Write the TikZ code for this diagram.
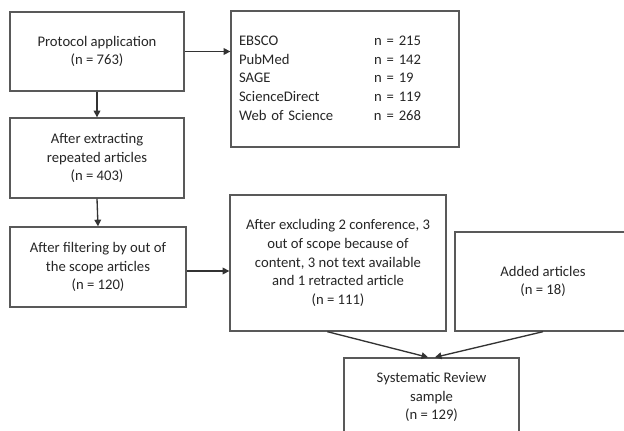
\documentclass[tikz,border=0pt]{standalone}
\usepackage{fontspec}
\setmainfont{Carlito}
\usetikzlibrary{arrows.meta}
\begin{document}
\begin{tikzpicture}[x=0.75pt,y=-0.75pt,
  box/.style={draw=black!65,line width=1pt,inner sep=0pt,align=center,
    text=black!85,font=\fontsize{11}{14}\selectfont},
  conn/.style={draw=black!80,line width=1pt,-{Triangle[length=5pt,width=5pt]}}]
\useasboundingbox (0,0) rectangle (624,430);
\clip (0,0) rectangle (624,430);
\fill[white] (0,0) rectangle (624,430);
\node[box,minimum width=130.5pt,minimum height=59.25pt] (b1) at (97,51.5)
  {Protocol application\\(n = 763)};
\node[box,minimum width=130.5pt,minimum height=60pt] (b2) at (97,158)
  {After extracting\\repeated articles\\(n = 403)};
\node[box,minimum width=132pt,minimum height=60pt] (b3) at (98,267)
  {After filtering by out of\\the scope articles\\(n = 120)};
\node[box,minimum width=171pt,minimum height=102pt,text width=159pt,align=left,inner xsep=6pt] (b5) at (345,79)
  {\begin{tabular}{@{}p{101.25pt}@{}l@{}}
   EBSCO & n = 215\\
   PubMed & n = 142\\
   SAGE & n = 19\\
   ScienceDirect & n = 119\\
   Web of Science & n = 268
   \end{tabular}};
\node[box,minimum width=162pt,minimum height=102pt] (b4) at (338,263)
  {After excluding 2 conference, 3\\out of scope because of\\content, 3 not text available\\and 1 retracted article\\(n = 111)};
\node[box,minimum width=132pt,minimum height=74.25pt] (b7) at (543,281.5)
  {Added articles\\(n = 18)};
\node[box,minimum width=131.25pt,minimum height=58.5pt] (b6) at (431.5,397)
  {Systematic Review\\sample\\(n = 129)};
\draw[conn] (b1.east) -- (b1.east -| b5.west);
\draw[conn] (b1.south) -- (b2.north);
\draw[conn] (b2.south) -- (b3.north);
\draw[conn] ([yshift=-3pt]b3.east) -- ([yshift=-3pt]b3.east -| b4.west);
\draw[conn] ([xshift=-8pt]b4.south) -- ([xshift=-2.5pt]b6.north);
\draw[conn] (b7.south) -- ([xshift=2.5pt]b6.north);
\end{tikzpicture}
\end{document}
